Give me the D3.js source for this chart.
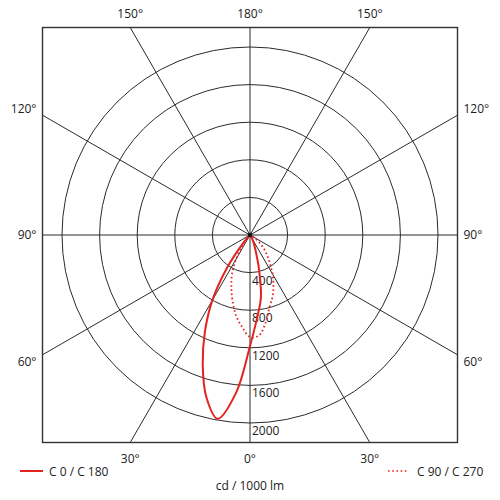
<!DOCTYPE html>
<html>
<head>
<meta charset="utf-8">
<script src="https://cdn.jsdelivr.net/npm/d3@7"></script>
<style>
  html, body { margin: 0; padding: 0; background: #fff; }
  svg { display: block; font-family: "Open Sans", "DejaVu Sans", sans-serif; }
</style>
</head>
<body>
<svg id="chart" width="500" height="500"></svg>
<script>
// gamma angles (deg from nadir) and intensities in cd / 1000 lm
const gamma = [0, 5, 10, 15, 20, 25, 30, 35, 40, 45, 50, 55, 60, 65, 70, 75, 80, 85, 90];
const c0    = [1180, 880, 670, 360, 170, 90, 45, 20, 8, 0, 0, 0, 0, 0, 0, 0, 0, 0, 0];
const c180  = [1180, 1680, 1985, 1790, 1470, 1135, 800, 420, 120, 25, 0, 0, 0, 0, 0, 0, 0, 0, 0];
const c90   = [1085, 1075, 950, 800, 700, 590, 480, 370, 285, 215, 140, 70, 25, 0, 0, 0, 0, 0, 0];
const c270  = [1085, 980, 865, 720, 580, 450, 290, 150, 55, 10, 0, 0, 0, 0, 0, 0, 0, 0, 0];

const ringTicks  = [400, 800, 1200, 1600, 2000];
const spokeAngles = [0, 30, 60, 90, 120, 150, 180, -150, -120, -90, -60, -30];
const angleLabels = [
  { a: -150, t: '150°' }, { a: 180, t: '180°' }, { a: 150, t: '150°' },
  { a: -120, t: '120°' }, { a: 120, t: '120°' },
  { a: -90,  t: '90°' },  { a: 90,  t: '90°' },
  { a: -60,  t: '60°' },  { a: 60,  t: '60°' },
  { a: -30,  t: '30°' },  { a: 0,   t: '0°' },  { a: 30, t: '30°' }
];

const RED = '#e3231f';
const cx = 250, cy = 235, half = 207.5;
const svg = d3.select('#chart');
const g = svg.append('g').attr('transform', `translate(${cx},${cy})`);

const r = d3.scaleLinear().domain([0, 2000]).range([0, 188]);
const rad = d => d * Math.PI / 180;

svg.append('defs').append('clipPath').attr('id', 'box')
  .append('rect').attr('x', -half).attr('y', -half).attr('width', half * 2).attr('height', half * 2);

const grid = g.append('g').attr('clip-path', 'url(#box)');
grid.selectAll('circle.ring').data(ringTicks).join('circle')
  .attr('r', d => r(d)).attr('fill', 'none').attr('stroke', '#2b2b2b').attr('stroke-width', 1);
grid.selectAll('line.spoke').data(spokeAngles).join('line')
  .attr('x1', 0).attr('y1', 0)
  .attr('x2', d => Math.sin(rad(d)) * 400).attr('y2', d => Math.cos(rad(d)) * 400)
  .attr('stroke', '#2b2b2b').attr('stroke-width', 1);

g.append('rect').attr('x', -half).attr('y', -half).attr('width', half * 2).attr('height', half * 2)
  .attr('fill', 'none').attr('stroke', '#333').attr('stroke-width', 1.4);

// ring labels along nadir
g.selectAll('text.ring').data(ringTicks).join('text')
  .attr('x', 2).attr('y', d => r(d) + 12)
  .attr('font-size', 12).attr('fill', '#222').text(d => d);

// angle labels at the frame edge
function edgeHit(a) {
  const dx = Math.sin(rad(a)), dy = Math.cos(rad(a));
  const tx = Math.abs(dx) > 1e-6 ? half / Math.abs(dx) : Infinity;
  const ty = Math.abs(dy) > 1e-6 ? half / Math.abs(dy) : Infinity;
  const t = Math.min(tx, ty);
  return { x: dx * t, y: dy * t, side: tx < ty - 1e-6 ? (dx < 0 ? 'l' : 'r') : (dy < 0 ? 't' : 'b') };
}
angleLabels.forEach(d => {
  const p = edgeHit(d.a);
  const tx = g.append('text').attr('font-size', 12).attr('fill', '#222').text(d.t);
  if (p.side === 't') tx.attr('x', p.x).attr('y', p.y - 10).attr('text-anchor', 'middle');
  else if (p.side === 'b') tx.attr('x', p.x).attr('y', p.y + 20).attr('text-anchor', 'middle');
  else {
    const off = p.y < -1 ? -6 : p.y > 1 ? 7 : 0;
    tx.attr('x', p.side === 'l' ? p.x - 6 : p.x + 6).attr('y', p.y + off + 4)
      .attr('text-anchor', p.side === 'l' ? 'end' : 'start');
  }
});

// curves: right side = C0 / C90, left side = C180 / C270
function loop(right, left) {
  const pts = [];
  for (let i = gamma.length - 1; i >= 0; i--) pts.push([Math.PI + rad(gamma[i]), r(left[i])]);
  for (let i = 1; i < gamma.length; i++) pts.push([Math.PI - rad(gamma[i]), r(right[i])]);
  return pts;
}
const line = d3.lineRadial().angle(d => d[0]).radius(d => d[1]).curve(d3.curveCatmullRom.alpha(0.5));

g.append('path').attr('d', line(loop(c90, c270)))
  .attr('fill', 'none').attr('stroke', RED).attr('stroke-width', 1.8)
  .attr('stroke-dasharray', '1.6,2.6').attr('stroke-linecap', 'butt');
g.append('path').attr('d', line(loop(c0, c180)))
  .attr('fill', 'none').attr('stroke', RED).attr('stroke-width', 2);

g.append('circle').attr('r', 2.2).attr('fill', '#111');

// legend
const lg = svg.append('g');
lg.append('line').attr('x1', 20).attr('x2', 43).attr('y1', 471).attr('y2', 471)
  .attr('stroke', RED).attr('stroke-width', 2);
lg.append('text').attr('x', 49).attr('y', 475.5).attr('font-size', 12).attr('fill', '#222').text('C 0 / C 180');
lg.append('line').attr('x1', 388).attr('x2', 409).attr('y1', 471).attr('y2', 471)
  .attr('stroke', RED).attr('stroke-width', 1.6).attr('stroke-dasharray', '1.6,2.6');
lg.append('text').attr('x', 417).attr('y', 475.5).attr('font-size', 12).attr('fill', '#222').text('C 90 / C 270');
lg.append('text').attr('x', 250).attr('y', 490).attr('font-size', 12).attr('text-anchor', 'middle')
  .attr('fill', '#222').text('cd / 1000 lm');
</script>
</body>
</html>
